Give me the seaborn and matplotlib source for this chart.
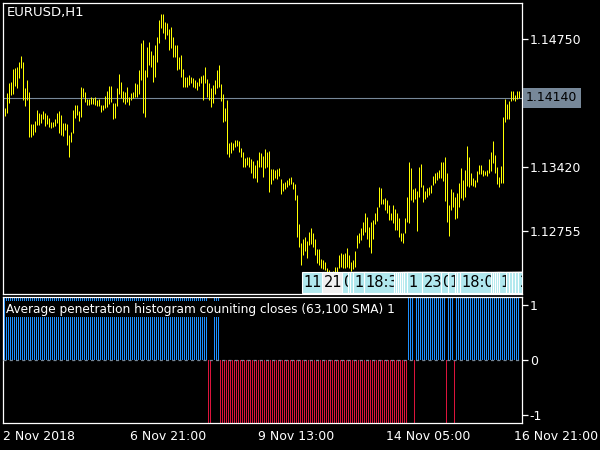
import numpy as np
import pandas as pd
import matplotlib
matplotlib.use("Agg")
import matplotlib.pyplot as plt
import matplotlib.transforms as mtransforms
from matplotlib.patches import Rectangle
import seaborn as sns

# ---------------- data ----------------
symbol_title = "EURUSD,H1"
indicator_title = "Average penetration histogram couniting closes (63,100 SMA) 1"

highs = [
    1.14032, 1.14188, 1.14292, 1.14302, 1.14438, 1.14448, 1.14459, 1.14511, 1.14573, 1.14511,
    1.14240, 1.14323, 1.14198, 1.13865, 1.13865, 1.13896, 1.14011, 1.13980, 1.13969, 1.14000,
    1.13980, 1.13959, 1.13928, 1.13886, 1.13886, 1.13917, 1.13980, 1.14000, 1.13959, 1.13876,
    1.13876, 1.13865, 1.13751, 1.13782, 1.14011, 1.14063, 1.14063, 1.14000, 1.14250, 1.14240,
    1.14198, 1.14125, 1.14125, 1.14146, 1.14136, 1.14146, 1.14115, 1.14125, 1.14063, 1.14063,
    1.14157, 1.14209, 1.14261, 1.14261, 1.14084, 1.14084, 1.14240, 1.14386, 1.14302, 1.14209,
    1.14198, 1.14250, 1.14146, 1.14188, 1.14198, 1.14292, 1.14282, 1.14427, 1.14708, 1.14740,
    1.14427, 1.14667, 1.14719, 1.14625, 1.14583, 1.14688, 1.14771, 1.14948, 1.15010, 1.15010,
    1.14927, 1.14917, 1.14854, 1.14875, 1.14771, 1.14688, 1.14688, 1.14563, 1.14583, 1.14438,
    1.14354, 1.14354, 1.14375, 1.14354, 1.14344, 1.14323, 1.14302, 1.14344, 1.14365, 1.14375,
    1.14459, 1.14334, 1.14292, 1.14240, 1.14271, 1.14323, 1.14427, 1.14479, 1.14282, 1.14177,
    1.14032, 1.14115, 1.13667, 1.13678, 1.13667, 1.13699, 1.13699, 1.13688, 1.13615, 1.13574,
    1.13511, 1.13522, 1.13522, 1.13501, 1.13480, 1.13438, 1.13490, 1.13574, 1.13563, 1.13532,
    1.13605, 1.13574, 1.13584, 1.13397, 1.13397, 1.13386, 1.13397, 1.13407, 1.13293, 1.13251,
    1.13261, 1.13282, 1.13303, 1.13313, 1.13261, 1.13241, 1.13126, 1.12824, 1.12626, 1.12668,
    1.12689, 1.12647, 1.12741, 1.12783, 1.12731, 1.12668, 1.12564, 1.12564, 1.12460, 1.12449,
    1.12429, 1.12366, 1.12345, 1.12324, 1.12335, 1.12376, 1.12376, 1.12501, 1.12522, 1.12512,
    1.12522, 1.12574, 1.12501, 1.12429, 1.12449, 1.12543, 1.12710, 1.12731, 1.12783, 1.12845,
    1.12939, 1.12897, 1.12793, 1.12845, 1.12866, 1.12939, 1.13001, 1.13209, 1.13199, 1.13084,
    1.13095, 1.13074, 1.13022, 1.12939, 1.13022, 1.12980, 1.12939, 1.12887, 1.12731, 1.12731,
    1.12887, 1.13105, 1.13470, 1.13407, 1.13189, 1.13199, 1.13168, 1.13418, 1.13449, 1.13230,
    1.13168, 1.13199, 1.13209, 1.13230, 1.13324, 1.13355, 1.13366, 1.13386, 1.13470, 1.13470,
    1.13522, 1.13355, 1.13022, 1.13189, 1.13157, 1.13105, 1.13147, 1.13251, 1.13407, 1.13282,
    1.13386, 1.13636, 1.13522, 1.13355, 1.13303, 1.13282, 1.13376, 1.13438, 1.13438, 1.13386,
    1.13376, 1.13386, 1.13501, 1.13574, 1.13688, 1.13542, 1.13418, 1.13313, 1.13428, 1.13938,
    1.14125, 1.14073, 1.14105, 1.14209, 1.14209, 1.14167, 1.14209, 1.14209,
]

lows = [
    1.13948, 1.13980, 1.14084, 1.14167, 1.14177, 1.14261, 1.14240, 1.14344, 1.14448, 1.14115,
    1.14052, 1.14115, 1.13730, 1.13730, 1.13751, 1.13782, 1.13855, 1.13855, 1.13876, 1.13917,
    1.13844, 1.13865, 1.13834, 1.13824, 1.13834, 1.13844, 1.13876, 1.13772, 1.13751, 1.13740,
    1.13803, 1.13647, 1.13522, 1.13678, 1.13772, 1.13928, 1.13959, 1.13896, 1.13938, 1.14146,
    1.14094, 1.14063, 1.14063, 1.14073, 1.14073, 1.14063, 1.14052, 1.14052, 1.13990, 1.14011,
    1.14032, 1.14042, 1.14073, 1.14094, 1.13917, 1.13928, 1.14052, 1.14177, 1.14136, 1.14094,
    1.14073, 1.14094, 1.14063, 1.14115, 1.14136, 1.14146, 1.14146, 1.14177, 1.14323, 1.13980,
    1.13938, 1.14354, 1.14479, 1.14459, 1.14302, 1.14354, 1.14511, 1.14708, 1.14865, 1.14813,
    1.14750, 1.14792, 1.14636, 1.14656, 1.14563, 1.14563, 1.14427, 1.14438, 1.14354, 1.14250,
    1.14250, 1.14250, 1.14271, 1.14292, 1.14250, 1.14240, 1.14219, 1.14261, 1.14292, 1.14115,
    1.14292, 1.14146, 1.14115, 1.14042, 1.14084, 1.14177, 1.14240, 1.14250, 1.14105, 1.13886,
    1.13896, 1.13553, 1.13522, 1.13563, 1.13595, 1.13626, 1.13636, 1.13574, 1.13522, 1.13418,
    1.13418, 1.13438, 1.13418, 1.13355, 1.13303, 1.13303, 1.13261, 1.13418, 1.13418, 1.13313,
    1.13407, 1.13418, 1.13157, 1.13241, 1.13282, 1.13303, 1.13293, 1.13324, 1.13137, 1.13168,
    1.13189, 1.13209, 1.13230, 1.13241, 1.13189, 1.13074, 1.12689, 1.12585, 1.12397, 1.12501,
    1.12543, 1.12470, 1.12606, 1.12616, 1.12585, 1.12501, 1.12418, 1.12397, 1.12366, 1.12356,
    1.12345, 1.12293, 1.12262, 1.12241, 1.12262, 1.12293, 1.12293, 1.12366, 1.12376, 1.12366,
    1.12366, 1.12376, 1.12366, 1.12335, 1.12356, 1.12376, 1.12574, 1.12626, 1.12658, 1.12710,
    1.12741, 1.12668, 1.12585, 1.12522, 1.12668, 1.12824, 1.12855, 1.13001, 1.13032, 1.13032,
    1.12970, 1.12939, 1.12866, 1.12866, 1.12835, 1.12762, 1.12762, 1.12689, 1.12647, 1.12626,
    1.12731, 1.12845, 1.12835, 1.13074, 1.13053, 1.13084, 1.12751, 1.13105, 1.13209, 1.13053,
    1.13084, 1.13105, 1.13126, 1.13147, 1.13230, 1.13251, 1.13282, 1.13303, 1.13303, 1.13272,
    1.13064, 1.12845, 1.12699, 1.12970, 1.13001, 1.12876, 1.12887, 1.13001, 1.13095, 1.13074,
    1.13105, 1.13220, 1.13209, 1.13230, 1.13220, 1.13209, 1.13261, 1.13345, 1.13345, 1.13324,
    1.13334, 1.13324, 1.13355, 1.13376, 1.13459, 1.13355, 1.13241, 1.13209, 1.13251, 1.13251,
    1.13886, 1.13917, 1.13917, 1.14105, 1.14115, 1.14105, 1.14125, 1.14136,
]

bid_price = 1.14140
price_ticks = [1.14750, 1.14085, 1.13420, 1.12755]
price_range = (1.12096, 1.15135)

# histogram runs: (direction, number of bars)
hist_runs = [(1, 102), (-1, 2), (0, 1), (1, 3), (-1, 94), (1, 3), (-1, 1),
             (1, 15), (-1, 1), (1, 3), (-1, 1), (1, 32)]
hist_level = 1.15
hist_ticks = [1, 0, -1]

date_labels = ["2 Nov 2018", "6 Nov 21:00", "9 Nov 13:00", "14 Nov 05:00", "16 Nov 21:00"]
date_positions = [-0.75, 62.75, 126.75, 190.75, 254.75]

# separator time labels at the bottom of the price window
# (bar position, visible text, background); later labels cover earlier ones
sep_bars = [148.75, 158.75, 168.75, 171.75, 172.75, 174.25, 179.75,
            194.75, 195.75, 196.75, 197.75, 198.75, 199.75,
            201.25, 208.75, 218.25, 221.75, 225.25, 226.25, 227.75,
            243.25, 244.25, 245.25, 246.25, 247.25, 250.75, 252.25, 253.75, 255.25, 256.75]
sep_texts = ["11", "21", "0", "", "", "1", "18:3",
             "", "", "", "", "", "",
             "1", "23", "0", "1", "", "", "18:0",
             "", "", "", "", "1", "", "", "", "", "2"]
sep_colors = ["#B0E8EE", "#F0F0F0"] + ["#B0E8EE"] * 28

# ---------------- style ----------------
sns.set_theme(style="dark", rc={"axes.facecolor": "black", "figure.facecolor": "black",
                                "axes.grid": False})
plt.rcParams["font.family"] = ["DejaVu Sans"]

W, H = 600, 450
fig = plt.figure(figsize=(6, 4.5), dpi=100)
fig.patch.set_facecolor("black")


def frac(l, t, r, b):
    return [l / W, 1 - b / H, (r - l) / W, (b - t) / H]


ax = fig.add_axes(frac(2.5, 2.5, 522, 294))
ax2 = fig.add_axes(frac(2.5, 296.5, 522, 423))
for a in (ax, ax2):
    a.set_facecolor("black")
    a.grid(False)
    for s in a.spines.values():
        s.set_color("white")
        s.set_linewidth(0.9)

idx = np.arange(len(highs))

# ---------------- price window ----------------
ax.vlines(idx, lows, highs, colors="#FFFF00", linewidth=0.72, antialiased=True, zorder=3)
ax.axhline(bid_price, color="#778899", lw=0.8, zorder=2)
ax.set_xlim(-1, 258.75)
ax.set_ylim(*price_range)
ax.set_xticks([])
ax.yaxis.tick_right()
ax.set_yticks(price_ticks)
ax.set_yticklabels([f"{p:.5f}" for p in price_ticks])
ax.tick_params(axis="y", colors="white", length=4, width=0.9, pad=1.5, labelsize=9,
               direction="out")
ax.text(0.0087, 0.964, symbol_title, transform=ax.transAxes, color="white",
        fontsize=9.5, ha="left", va="center")
ax.annotate(f"{bid_price:.5f}", xy=(1.0, bid_price), xycoords=("axes fraction", "data"),
            xytext=(3, 0), textcoords="offset points", ha="left", va="center",
            fontsize=9, color="black", zorder=20, annotation_clip=False,
            bbox=dict(boxstyle="square,pad=0.25", fc="#778899", ec="none"))

trans = mtransforms.blended_transform_factory(ax.transData, ax.transAxes)
for k, (b, t, c) in enumerate(zip(sep_bars, sep_texts, sep_colors)):
    ax.add_patch(Rectangle((b, 0.004), 22, 0.071, transform=trans, facecolor=c,
                           edgecolor="white", linewidth=0.8, zorder=10 + 2 * k, clip_on=True))
    if t:
        ax.text(b + 0.8, 0.039, t, transform=trans, color="black", fontsize=10.5,
                ha="left", va="center", zorder=11 + 2 * k, clip_on=True)

# ---------------- indicator window ----------------
vals, dirs = [], []
for d, n in hist_runs:
    for _ in range(n):
        vals.append(d * hist_level)
        dirs.append({1: "up", -1: "down", 0: "flat"}[d])
df = pd.DataFrame({"bar": idx, "value": vals, "dir": dirs})
sns.barplot(data=df, x="bar", y="value", hue="dir",
            palette={"up": "#1E90FF", "down": "#DC143C", "flat": "#000000"},
            native_scale=True, width=0.5, dodge=False, legend=False, errorbar=None,
            saturation=1, linewidth=0, ax=ax2)
ax2.axhline(0, color="#778899", lw=0.9, ls=(0, (2.5, 2.5)), zorder=5)
ax2.set_xlim(-1, 258.75)
ax2.set_ylim(-hist_level, hist_level)
ax2.set_xlabel("")
ax2.set_ylabel("")
ax2.yaxis.tick_right()
ax2.set_yticks(hist_ticks)
ax2.set_yticklabels([str(t) for t in hist_ticks])
ax2.tick_params(axis="y", colors="white", length=4, width=0.9, pad=1.5, labelsize=9,
                direction="out")
ax2.set_xticks(date_positions)
ax2.set_xticklabels(date_labels)
for lbl in ax2.get_xticklabels():
    lbl.set_ha("left")
ax2.tick_params(axis="x", colors="white", length=3, width=0.9, pad=2, labelsize=9,
                direction="out")
ax2.text(0.0067, 0.90, indicator_title, transform=ax2.transAxes, color="white",
         fontsize=8.7, ha="left", va="center", zorder=30,
         bbox=dict(boxstyle="square,pad=0.1", fc="black", ec="none"))

fig.savefig("out.png", dpi=100, facecolor="black")
